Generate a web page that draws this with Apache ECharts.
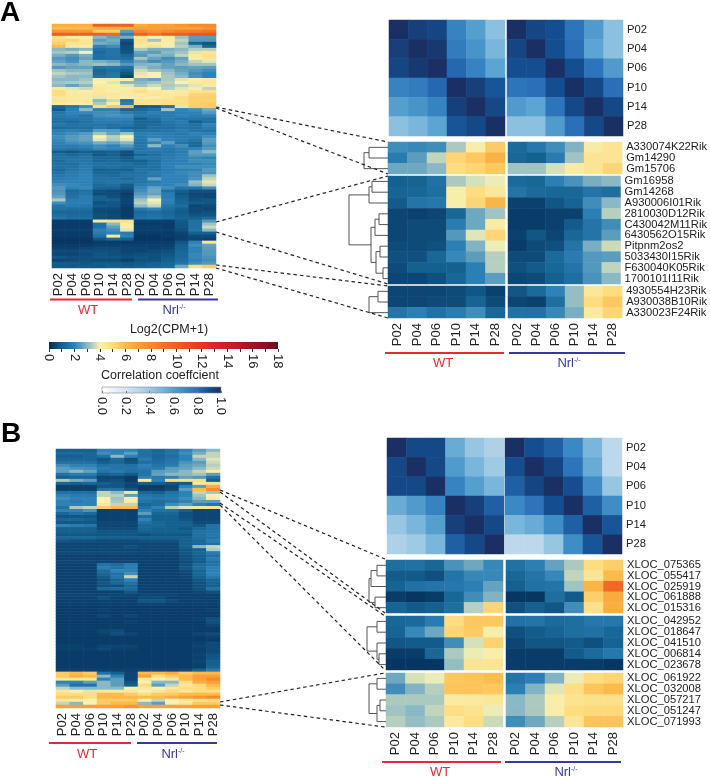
<!DOCTYPE html>
<html>
<head>
	<meta charset="utf-8" />
	<title>Heatmaps</title>
	<style>
		* { padding: 0; margin: 0; }
		html, body { background: #fff; }
	</style>
</head>
<body>
	<div id="main" style="width:710px;height:778px;"></div>
	<script src="https://cdn.jsdelivr.net/npm/echarts@6/dist/echarts.min.js"></script>
	<script>
		var timepoints = ['P02', 'P04', 'P06', 'P10', 'P14', 'P28'];
		var exprTicks = [0, 18];
		var corrTicks = [0, 1];
		// colour at log2 = 0,1,2...18
		var exprColors = ['#052c58', '#14608f', '#2e82b8', '#8ab8c4', '#f7f2b4', '#fedc80', '#fcba4a', '#f9a038', '#f68a2e', '#f27428', '#ee5f24', '#e94a24', '#e53525', '#df2426', '#cd1e28', '#b71a26', '#a01524', '#881022', '#700c20'];
		// colour at r = 0, .1 ... 1
		var corrColors = ['#ffffff', '#eaf2fa', '#d5e5f3', '#bdd8ec', '#9ecae3', '#7ab6dc', '#559fce', '#3a88c4', '#2a6fb8', '#144e90', '#1a2f64'];

		// overview heatmap A, one line per gene row: 6 WT then 6 Nrl-/-
		var overviewA = [
			[6.5, 6.5, 6.5, 10, 10, 10, 6.5, 7, 7, 7.5, 8, 8],
			[6, 6, 6, 6.5, 6.5, 6.5, 7, 7, 7, 7, 7, 7.5],
			[7.5, 7.5, 7.5, 5.5, 5.5, 2.5, 8, 7.5, 8, 8.5, 8.5, 9],
			[10, 10, 10, 10, 9.5, 2, 10, 9, 10, 10, 10.5, 10.5],
			[4.8, 4.2, 4.2, 3, 2.6, 2.8, 4.5, 4, 4.3, 3.2, 2.5, 2.5],
			[5, 5.2, 4.5, 2.5, 2.8, .8, 4.8, 3.2, 4.3, 3.5, 2.4, 2.4],
			[5.4, 4.6, 4.6, 2.8, 2.6, .5, 4.6, 4.4, 4.2, 3.2, 1.2, .8],
			[6, 4.4, 4.2, 2, 2.2, .7, 4.4, 4.8, 4.2, 3.4, 2.8, 1.2],
			[3, 2.8, 3, 1.5, 1.6, .7, 3.3, 2.8, 2.8, 3, 3.4, 3.4],
			[3.2, 3.4, 4, 1.3, 1.6, .8, 2.6, 2.5, 3, 3.2, 3.8, 4.6],
			[2.8, 2.4, 2.8, 1.5, 1.6, 1.2, 2.4, 3, 2.8, 3.5, 4.4, 4.8],
			[2.4, 2.2, 2.6, 1.4, 1.5, 1.4, 3.2, 2.6, 2.2, 2.6, 4.2, 4.6],
			[2.6, 2.3, 3, 2.8, 2.6, 2, 2.6, 2.2, 2.4, 2.8, 3.5, 3.8],
			[3, 2.8, 3, 3.2, 3, 2.4, 2.9, 3, 2.6, 3, 3.2, 3.2],
			[2.4, 2.6, 2.6, 1.6, 1.7, 1.5, 3.2, 2.8, 2.6, 2.5, 2.6, 2.5],
			[3.2, 3, 3, 1.2, 1.4, 1.1, 3.6, 3.2, 3, 2.6, 2.4, 2.2],
			[3.5, 3.3, 3.2, 1.3, 1.6, .8, 3.8, 4, 3.2, 2.8, 2.2, 2],
			[3.2, 3, 3, 1.5, 1.7, .5, 4.4, 4, 3.3, 3, 2.3, 2],
			[3, 3, 3.2, 4.2, 4.2, 4.2, 2.8, 2.6, 3.3, 3.8, 4.2, 4.4],
			[3.2, 3.3, 3.4, 4, 3.8, 3, 3, 3.2, 3.4, 4, 4.4, 4.5],
			[3, 2.6, 3, 4.3, 4.2, 3.8, 3.2, 3.6, 3.3, 3.5, 3.8, 4.3],
			[4.4, 3.8, 3.6, 4.5, 4.3, 4.2, 4.5, 4, 3.4, 3.8, 4.2, 3.5],
			[5, 4.3, 4.2, 4.4, 4.2, 4.4, 4.8, 4.4, 4.2, 4.4, 4.6, 4.8],
			[5, 4.4, 4.4, 4.6, 4.5, 4.3, 4.4, 4.6, 4.4, 4.5, 5.2, 5.3],
			[4.5, 4.4, 4.3, 3.8, 4.3, 4.2, 4.3, 4.2, 4.5, 5, 5.4, 5.4],
			[4.6, 4.5, 4.4, 3, 3.6, 1.6, 4.6, 4.8, 4.8, 4.8, 5.3, 5.3],
			[4.4, 4.2, 4.2, 3.3, 4.2, 1.8, 4.8, 4.6, 5, 5, 5.4, 5.5],
			[1.2, 1.6, 2.2, 5, 5.6, 6, .8, .9, 1.5, 3.8, 5.5, 5.5],
			[.9, 1.9, 3, 1.9, 2, 1.1, 1.2, 1.5, 3.2, 2, 2.2, 2.7],
			[1.6, 2, 2.1, 2.2, 2.2, 1.8, 1.6, 1.9, 1.8, 1.9, 2, 2.4],
			[1.7, 1.8, 1.6, 2.2, 2.3, 2.2, 1.7, 1.7, 1.8, 2, 1.8, 2],
			[1.5, 1.6, 1.6, 1.9, 2, 2, 1, 1.4, 1.8, 1.6, 1.6, 1.5],
			[1.4, 1.3, 1.5, 1.8, 1.8, 1.7, 1.2, 1.2, 1.6, 1.8, 1, 1.4],
			[1.7, 1.5, 1.6, 1.6, 1.5, 1.6, 1.2, 1.3, 1.5, 1.7, 1.5, 2],
			[1.3, 1.4, 1.4, 1.7, 1.4, 1.2, 1.1, 1.4, 1.4, 1.6, 1.5, 1.8],
			[1.8, 1.9, 1.7, 2.5, 2.4, 1.9, 1.5, 1.5, 1.6, 1.8, 1.6, 1.5],
			[2, 2.2, 2.4, 3.2, 2.6, 3.2, 1.8, 1.9, 1.8, 1.7, 2, 1.9],
			[2.2, 2.4, 2.6, 4.1, 3.4, 4, 1.8, 2, 1.9, 1.8, 1.8, 2.2],
			[2.1, 2.4, 2.6, 3.8, 3.3, 3.8, 1.7, 2.5, 2, 1.8, 1.6, 2.5],
			[2, 2.2, 2.3, 2.8, 2.6, 3, 1.6, 2, 2.5, 1.6, 1.3, 2.4],
			[1.8, 1.8, 2, 2.2, 2, 2.4, 1.7, 3, 1.9, 2.2, 1.2, 2.2],
			[1.7, 1.6, 1.7, 2.1, 2, 2, 1.6, 1.8, 1.7, 1.9, 2, 2.4],
			[.9, .8, 1, .9, 1, .7, 1.7, 1.6, 1.6, 1.8, 2.5, 3],
			[1.4, 1.2, 1.4, .8, 1, .6, 1.2, 1.4, 1.7, 1.9, 2.4, 2.4],
			[1.5, 1.5, 1.6, 1.2, 1.2, .9, 1.7, 1.6, 1.8, 2, 2.1, 2],
			[1.3, 1.6, 1.6, 1.2, 1.3, 1, 1, 1.4, 1.8, 1.9, 2.2, 2.2],
			[1.4, 1.4, 1.7, 1.5, 1.4, 1.4, 1.2, 1.5, 1.9, 2, 2, 2.1],
			[1.5, 1.5, 1.8, 1.4, 1.5, 1.3, 1.4, 1.5, 1.9, 2.2, 2.2, 2.2],
			[1.3, 1.6, 1.8, 1, 1.1, 1, 1.6, 1.5, 1.8, 1.9, 2, 2.4],
			[1.5, 1.8, 1.9, 1.2, 1.2, 1.4, 1.5, 1.8, 1.9, 2.1, 2.2, 2.3],
			[1.7, 1.8, 2, 1.4, 1.3, 1.5, 1.6, 1.7, 2, 2, 2.2, 3.2],
			[1.8, 1.9, 2, 1.5, 1.5, 1.3, 1.6, 2.6, 2, 2, 2.3, 3.5],
			[2, 2, 2, 1.5, 1.6, 1.6, 1.6, 1.8, 2, 2, 3.1, 3.8],
			[2.2, 2.1, 2, 1.3, 1.4, .9, 1.8, 2, 2, 2.2, 2.9, 3.6],
			[2.4, 2, 2.1, 1.2, 1.1, .8, 2.1, 2.6, 2.2, 1.6, 1.6, 2.2],
			[2.3, 1.3, 1.5, .7, .6, .5, 2.2, 2.7, 1.4, 1, .7, .7],
			[2.4, 1.4, 1.6, .6, .6, .3, 2.4, 2.6, 1.8, .8, .5, .5],
			[2.6, 1.5, 1.8, 1, .7, .4, 2.7, 3.2, 1.8, 1, .6, .5],
			[3.3, 1.8, 1.8, 1, 1, .5, 3.2, 4, 2, 1.1, .7, .8],
			[2.2, 1.9, 1.9, .7, .8, .5, 3.4, 3.8, 1.9, 1.2, .9, .8],
			[1.6, 1.8, 1.7, .9, .8, .4, 3, 3.5, 1.6, 1.4, .5, .6],
			[1.5, 1.4, 1.4, .6, .6, .3, 1.7, 2, 1.4, 1, .6, .5],
			[1.2, 1.2, 1.2, .6, .5, .3, 1.3, 1.4, 1.2, .9, .6, .7],
			[1.4, 1.3, 1.3, .7, .6, .3, 1.4, 1.5, 1.3, 1, .8, .8],
			[1.6, 1.4, 1.4, .7, .6, .4, 1.5, 1.6, 1.4, 1.1, 1, 1.3],
			[.3, .3, .3, 4.5, 4.8, 4.8, .4, .4, .4, .9, 1.5, 2.4],
			[.3, .3, .3, 1.5, 3, 4.3, .3, .3, .3, .8, 1.5, 3.2],
			[.3, .3, .3, 1.5, 2.5, 4.2, .4, .4, .3, .8, 1.5, 3.6],
			[.4, .4, .4, 2, 2.2, 3.8, .4, .4, .4, .7, 1.6, 3],
			[.3, .3, .3, 1.8, 2, 1.8, .3, .3, .3, .5, 1, 1],
			[.3, .3, .3, 1.5, 4.5, 2, .2, .2, .3, .4, .6, .6],
			[.2, .2, .2, .8, 1.2, 1, .2, .2, .2, .4, .5, .4],
			[.2, .2, .2, .3, .3, .3, .3, .3, .3, .8, 2, 4.5],
			[.3, .3, .3, .4, .4, .4, .4, .4, .4, 1, 2.2, 2.6],
			[.4, .4, .5, .6, .6, .5, .5, .4, .5, 1.1, 2, 2.5],
			[.6, .6, .7, .7, .7, .5, .5, .6, .7, 1.2, 2, 2.4],
			[.5, .5, .6, .8, .7, .6, .7, .7, .8, 1.3, 2.1, 2.4],
			[.8, .7, .7, .8, .8, .7, .8, .7, .9, 1.3, 2.1, 2.3],
			[.5, .6, .7, .6, .6, .4, .7, .7, 1, 1.4, 2, 2.2],
			[.9, .9, .8, .9, .9, .8, .9, 1, 1.2, 1.6, 2.2, 2.4],
			[.9, .9, .9, .9, 1, .9, 1, 1.1, 1.3, 2.7, 5, 5.5]
		];

		// overview heatmap B, same layout
		var overviewB = [
			[1, 1, 1, 2, 2, 2, 1.5, 1.2, 1.5, 2, 2.5, 3],
			[1.3, 1.3, 1.2, 2.2, 2, 2.5, 1.5, 1.3, 1.6, 2.2, 2.8, 3.5],
			[1, 1, 1.2, 1.5, 3, 2, 1.5, 1.2, 1.4, 2, 3.5, 3.5],
			[1.2, 1.2, 1.2, .8, 1.3, .7, 1.8, 1.3, 1.6, 2, 3, 3.8],
			[1.5, 1.5, 1.5, 1, 1.2, .8, 1.4, 1.4, 1.7, 2.3, 2.5, 3.6],
			[2.2, 2, 2, 1.5, 1.6, 1.5, 2, 1.6, 1.8, 2.5, 2.7, 3.4],
			[2.5, 2.3, 2.2, 1.8, 1.6, 1.6, 1.8, 1.8, 2.5, 2.6, 3, 3.6],
			[2.5, 3, 2.6, 1.6, 1.8, 1.5, 1.6, 2.5, 2.6, 3, 3.5, 4.2],
			[1.5, 1.8, 1.8, 1, 1.2, .9, 1.6, 2.6, 3, 3, 3.2, 2.5],
			[1, 1.2, 1.2, .5, .5, .3, 2, 1.8, 2, 2.6, 2.4, 1.5],
			[3.3, 2.8, 2.5, .6, .7, .3, 4.5, 2, 5, 5, 5, 1],
			[1.2, 1, 1.2, 1, .8, .6, 1, 1, .8, .9, 4.5, 4.8],
			[.4, .4, .4, .8, .8, .5, .3, .3, .5, 2, 2.5, 6.5],
			[.4, .4, .4, 1.5, 1.5, .8, .3, .4, .6, 2.5, 6, 8],
			[1.5, 1.5, 1.5, 3.5, 3, 4.5, 1.2, 1, 1.5, 2, 3.5, 3.2],
			[2, 1.8, 1.8, 3.5, 3.4, 2.5, 1.6, 1.5, 1.7, 2, 3.2, 4],
			[2.2, 2, 2, 4, 3.2, 4.2, 1.8, 1.7, 1.8, 2.2, 3, 4.2],
			[2, 1.8, 2, 4, 3.3, 4.3, 1.6, 1.4, 1.6, 2, 2.5, 2.5],
			[2, 2, 2, 4.5, 3.5, 3.5, 1.2, 1.4, 2.2, 2.5, 2, 1.6],
			[1.5, 3.3, 3.5, 5.5, 6, 6, 1.5, 2, 3.4, 3.8, 4.6, 4.6],
			[2, 2, 2.3, .4, .4, .4, 2, 1.5, 1.5, 1, .5, .5],
			[1.2, 1.5, 1.3, .4, .4, .4, 2.5, 1.2, 1.2, .7, .5, .5],
			[.8, .8, .8, .4, .4, .4, 1.4, 1, 1, .7, .5, .5],
			[1.2, 1.2, 1, .4, .4, .4, 2, 1, 1, .8, .5, .5],
			[.8, .8, .8, .5, .5, .5, 1.5, 1.2, 1, 1, .6, .6],
			[2, 1.8, 1.6, .5, .5, .5, 1.2, 1.2, 1, 1, .8, 1.5],
			[1, 1, 1, .6, .6, .6, 1.2, 1, 1, .8, 1.2, 1.5],
			[1, 1, 1, .8, .8, .8, 1, 1, 1, 1, 1.5, 1.6],
			[.8, .8, .8, .8, .8, .8, .7, .8, .8, .8, 1.5, 1.7],
			[1.2, 1.2, 1.2, 1, 1, 1, 1, 1, 1, 1, 1.4, 1.6],
			[.8, .7, .7, .6, .6, .6, .7, .7, .7, 1, 1.2, 1.8],
			[.5, .5, .5, .5, .5, .5, .5, .5, .5, 1, 1.2, 1.5],
			[.5, .5, .5, .5, .5, .7, .5, .5, .5, 1, 3, 3.5],
			[.5, .5, .5, .5, .5, .5, .5, .5, .5, .8, 1, 3.3],
			[.6, .6, .6, .6, .6, .6, .5, .5, .5, .8, 1.2, 1.8],
			[.4, .4, .4, .4, .4, .4, .4, .4, .4, .7, 1, 1.5],
			[.4, .4, .4, .4, .4, .4, .4, .4, .4, .7, 1, 1.8],
			[.5, .5, .5, .5, .5, .5, .4, .4, .4, .6, .9, 1.5],
			[.4, .4, .4, 1.5, 1.3, 1.8, .4, .4, .4, .7, 1.3, 1.6],
			[.4, .4, .4, 1.8, 1.5, 1.8, .4, .4, .4, .8, 1.4, 1.9],
			[.4, .4, .4, 1.3, 2, 1.9, .4, .4, .4, .6, 1.1, 1.9],
			[.4, .4, .4, 1.2, 1.5, 2.2, .4, .4, .4, .5, 1.2, 2],
			[.4, .4, .4, .9, 1.6, 3.5, .4, .4, .4, .5, 1, 1.7],
			[.4, .4, .4, .7, 1.2, 2, .4, .4, .4, .4, .8, 1.2],
			[.4, .4, .4, .8, 1.2, 1.5, .4, .4, .4, .4, .7, 1.1],
			[.4, .4, .4, .7, .7, 1.2, .4, .4, .4, .4, .7, 1],
			[.4, .4, .4, 1.2, 1.3, 1.3, .4, .4, .4, .4, .7, 1.5],
			[.4, .4, .4, .4, .4, .8, .4, .4, .4, .4, .5, .7],
			[.5, .5, .5, .5, .5, .5, .5, .5, .5, .4, .4, .4],
			[.4, .4, .4, .7, .4, .4, .6, .6, .4, .4, .4, .4],
			[.4, .4, .4, .4, .4, .4, .8, .8, .6, .4, .4, .4],
			[.4, .4, .4, .4, .4, .4, .5, .5, .4, .4, .4, .4],
			[.3, .3, .3, .3, .3, .3, .3, .3, .3, .3, .3, .3],
			[.3, .3, .3, .4, .3, .3, .3, .3, .3, .3, .3, .4],
			[.3, .3, .3, .3, .3, .3, .3, .3, .3, .3, .3, .3],
			[.3, .3, .3, .5, .3, .5, .3, .3, .3, .3, .3, .3],
			[.3, .3, .3, .3, .3, .3, .3, .3, .3, .3, .4, .7],
			[.3, .3, .3, .3, .3, .4, .3, .3, .3, .3, .3, .7],
			[.3, .3, .3, .3, .3, .3, .3, .3, .3, .3, .3, .5],
			[.3, .3, .3, .3, .3, .3, .3, .3, .3, .3, .3, .3],
			[.3, .3, .3, .5, .6, .3, .3, .3, .3, .3, .3, .3],
			[.3, .3, .3, .4, .7, .5, .3, .3, .3, .3, .5, .6],
			[.3, .3, .3, .3, .3, .3, .3, .3, .3, .3, .3, .4],
			[.3, .3, .3, .3, .3, .3, .3, .3, .3, .3, .3, .3],
			[.3, .3, .3, .3, .3, .3, .3, .3, .3, .3, .4, .6],
			[.4, .4, .3, .5, .5, .5, .3, .3, .3, .3, .5, .6],
			[.4, .4, .4, .6, .4, .4, .3, .3, .3, .3, .4, .6],
			[.3, .3, .3, .3, .3, .3, .3, .3, .3, .3, .4, .6],
			[.3, .3, .3, .3, .3, .3, .3, .3, .3, .3, .5, .8],
			[.3, .3, .3, .3, .3, .3, .3, .3, .3, .3, .4, .8],
			[.3, .3, .3, .3, .3, .3, .3, .3, .3, .3, .5, 1],
			[.3, .3, .3, .3, .3, .3, .3, .3, .3, .3, .4, 1],
			[.3, .3, .3, .3, .3, .3, .3, .3, .3, .3, .4, 1.2],
			[.4, .4, .4, .4, .4, .4, .5, .5, .5, .6, 1.1, 1.8],
			[5.5, 6, 5.5, 1.5, 1, .5, 6, 6, 6.5, 5.5, 6, 6],
			[5.5, 6.5, 6, 3, 2, .5, 7, 5, 5.5, 6, 7, 7],
			[4.5, 4.5, 4.5, 2, 2.5, .5, 4.5, 4, 4.5, 6, 7, 8],
			[2, 2, 2.5, 3, 2.5, .8, 4, 3, 3, 5, 6.5, 7],
			[2.5, 1.5, 1.5, 3, 2.5, 1, 5, 2.5, 3.5, 4.5, 5, 6],
			[3.5, 3, 3, 3, 3, 4, 4.5, 4, 4.5, 5, 5, 5.5],
			[4.5, 4, 3.8, 4.5, 4.5, 4.5, 4, 4.5, 5, 4.5, 5, 5],
			[5, 5, 5, 6, 6, 5.5, 5, 5.5, 5.5, 6, 6, 6],
			[5.5, 5.5, 5, 6, 6, 6, 6, 6, 6.5, 7, 7.5, 8],
			[4.5, 4.3, 4, 5.5, 5.5, 5.5, 4, 3.5, 4, 4.5, 4.8, 5],
			[3.5, 3, 4, 5.5, 6, 6, 3, 2.5, 4, 4.5, 5.5, 5.5],
			[7, 7, 7, 7, 7, 7.5, 7, 7, 7, 7, 7, 7]
		];

		var corrAWt = [
			[1, .95, .93, .72, .6, .45],
			[.95, 1, .97, .75, .65, .5],
			[.93, .97, 1, .82, .72, .58],
			[.72, .75, .82, 1, .95, .88],
			[.6, .65, .72, .95, 1, .92],
			[.45, .5, .58, .88, .92, 1]
		];
		var corrANrl = [
			[1, .93, .9, .78, .62, .45],
			[.93, 1, .9, .8, .58, .45],
			[.9, .9, 1, .9, .78, .62],
			[.78, .8, .9, 1, .92, .8],
			[.62, .58, .78, .92, 1, .92],
			[.45, .45, .62, .8, .92, 1]
		];
		var corrBWt = [
			[1, .92, .92, .55, .42, .35],
			[.92, 1, .92, .62, .5, .4],
			[.92, .92, 1, .72, .6, .5],
			[.55, .62, .72, 1, .95, .85],
			[.42, .5, .6, .95, 1, .92],
			[.35, .4, .5, .85, .92, 1]
		];
		var corrBNrl = [
			[1, .9, .85, .7, .5, .3],
			[.9, 1, .93, .78, .55, .3],
			[.85, .93, 1, .9, .68, .42],
			[.7, .78, .9, 1, .85, .68],
			[.5, .55, .68, .85, 1, .88],
			[.3, .3, .42, .68, .88, 1]
		];

		var genesA1 = ['A330074K22Rik', 'Gm14290', 'Gm15706'];
		var valuesA1 = [
			[2.2, 2.1, 2.2, 3.3, 4.2, 5.5, 1.3, 1.7, 2.2, 2.9, 4.3, 4.6],
			[1.8, 2.5, 3.5, 5.2, 5.6, 6.3, 1.2, 1, 1.8, 3.2, 4.6, 4.6],
			[2.7, 2.7, 3, 5, 5.2, 5.6, 3.2, 3.2, 3.7, 4.3, 4.6, 5.2]
		];
		var genesA2 = ['Gm16958', 'Gm14268', 'A930006I01Rik', '2810030D12Rik', 'C430042M11Rik', '6430562O15Rik', 'Pitpnm2os2', '5033430I15Rik', 'F630040K05Rik', '1700101I11Rik'];
		var valuesA2 = [
			[1, 1.1, 1.5, 3.3, 3.7, 3.9, 1.3, 1.2, 1.9, 2.3, 2.8, 3],
			[1.1, 1.2, 1.4, 4.2, 5, 4.5, 1.6, 1.3, 1.2, 1.2, 1.6, 1.4],
			[.9, 1.6, 1.7, 4.2, 5.2, 6.2, .4, .4, .8, 1.1, 2.2, 3],
			[.5, .4, .5, 1.2, 2.7, 3.2, .3, .3, .4, .4, 1.9, 3.4],
			[.5, .6, .6, 1.8, 2.7, 4.3, .3, .3, .4, .9, 1.6, 2.2],
			[.5, .6, .6, 2.4, 3.8, 5.2, .4, .8, .5, 1.2, 1.6, 2.5],
			[.6, .6, .7, 1.9, 2.9, 3.9, .3, .6, .7, 1.6, 2.8, 3.6],
			[.7, .7, 1.2, 2.1, 2.5, 3.4, .6, .6, 1.3, 1.8, 2.4, 2.5],
			[.6, 1, 1, 1, 1.9, 3.4, .7, .9, 1.2, 1.6, 2.4, 3.5],
			[.5, .5, .7, 1.2, 1.9, 2.5, .5, .6, 1, 1.4, 2.3, 3]
		];
		var genesA3 = ['4930554H23Rik', 'A930038B10Rik', 'A330023F24Rik'];
		var valuesA3 = [
			[.5, .5, .5, .6, .8, .4, .8, 1.3, 2, 3.1, 4.5, 5],
			[.5, .5, .6, .6, 1.1, .6, .5, .4, 1.4, 3.1, 5, 5.6],
			[1.6, 1.9, 1.5, 1.8, 2.2, 1.2, 1.5, 1.5, 2.1, 2.8, 4.4, 5.2]
		];
		var genesB1 = ['XLOC_075365', 'XLOC_055417', 'XLOC_025919', 'XLOC_061888', 'XLOC_015316'];
		var valuesB1 = [
			[1.4, 1.5, 1.2, 2.3, 2.7, 2.1, 1.5, 1.9, 2.6, 3.3, 5, 5.4],
			[.9, .9, .7, 1.6, 2.1, 2.1, 1.2, 1.6, 2.1, 3.5, 4.6, 6],
			[1.1, 1.5, 1.6, 1.7, 1.9, 2.6, 1, 1.5, 1.6, 3.2, 6.2, 9.5],
			[.3, .2, .3, 1.2, 2.2, 2.9, .2, .2, 1.4, .9, 5.4, 6.6],
			[1.1, .9, 1, 1.4, 3.4, 5.2, .7, 1, .8, 2.2, 4.8, 6.5]
		];
		var genesB2 = ['XLOC_042952', 'XLOC_018647', 'XLOC_041510', 'XLOC_006814', 'XLOC_023678'];
		var valuesB2 = [
			[1.2, 1.3, 1.8, 5, 5.6, 5.6, 1.5, 1.6, 1.3, 1.4, 1.7, 1.7],
			[1.1, 2.1, 2.7, 5.2, 5.5, 4.2, .7, .9, 1.1, 1.4, 1.5, 1.2],
			[.8, .9, .9, 2.2, 3.7, 5.3, .5, .8, .8, .9, .7, 1.1],
			[.3, .3, 1.2, 3.3, 3.9, 4.2, .3, .3, .3, .9, 1.3, 1.7],
			[.2, .2, .2, 3.1, 4.6, 4.6, .3, .3, .3, .3, .3, .2]
		];
		var genesB3 = ['XLOC_061922', 'XLOC_032008', 'XLOC_057217', 'XLOC_051247', 'XLOC_071993'];
		var valuesB3 = [
			[2.7, 3.7, 3.9, 5.6, 5.7, 5.9, 1.6, 1.9, 2.9, 3.9, 5, 5.2],
			[2.2, 2.9, 3.4, 5.7, 5.7, 5.6, 1.9, 2.9, 3.8, 4.9, 5.7, 6],
			[3.3, 3.3, 3.3, 4.3, 4.4, 4.5, 3, 3.3, 4.2, 4.7, 4.8, 4.8],
			[3.2, 3, 3.5, 4.9, 4.7, 3.9, 3, 3.3, 4.2, 5, 5.1, 5.1],
			[3.4, 3.1, 3.3, 4.4, 4.9, 3.6, 2.2, 2.7, 3.4, 4.6, 5.7, 5.7]
		];

		// clustering trees: [merge height, child, child], a bare number is a gene row
		var treeA1 = [24, [19, 0, 1], 2];
		var treeA2 = [39, [19, [16, 0, 1], 2], [17, [13, [9, 3, 4], 5], [12, [8, 6, 7], [5, 8, 9]]]];
		var treeA3 = [19, [10, 0, 1], 2];
		var treeB1 = [17, [15, [9, 0, 1], 2], [11, 3, 4]];
		var treeB2 = [19, [9, 0, 1], [9, 2, [7, 3, 4]]];
		var treeB3 = [17, [9, 0, 1], [9, [6, 2, 3], 4]];

		var FONT = '"Liberation Sans", Arial, sans-serif';
		var TEXT = '#222';
		var RED = '#e12b36';
		var BLUE = '#38389a';

		var grids = [], xAxes = [], yAxes = [], seriesList = [], graphics = [];
		var exprSeries = [], corrSeries = [];

		function addGrid(rect, xAxis, yAxis) {
			grids.push({ left: rect[0], top: rect[1], width: rect[2], height: rect[3], show: false });
			var i = grids.length - 1;
			xAxis.gridIndex = i;
			yAxis.gridIndex = i;
			xAxes.push(xAxis);
			yAxes.push(yAxis);
			return i;
		}

		function hiddenLine() {
			return { axisLine: { show: false }, axisTick: { show: false }, splitLine: { show: false } };
		}

		// one heatmap block, from/to pick the columns of rows
		function heat(rect, rows, from, to, colNames, rowNames, scale) {
			var names = [];
			for (var r = 0; r < rows.length; r++) names.push(rowNames ? rowNames[r] : String(r));
			var xa = hiddenLine();
			xa.type = 'category';
			xa.data = colNames || timepoints;
			xa.axisLabel = colNames
				? { show: true, rotate: 90, fontSize: 13, fontFamily: FONT, color: TEXT, margin: 5, interval: 0 }
				: { show: false };
			var ya = hiddenLine();
			ya.type = 'category';
			ya.data = names;
			ya.inverse = true;
			ya.position = 'right';
			ya.axisLabel = rowNames
				? { show: true, fontSize: 11.2, fontFamily: FONT, color: TEXT, margin: 4, interval: 0 }
				: { show: false };
			var g = addGrid(rect, xa, ya);
			var data = [];
			for (var i = 0; i < rows.length; i++) {
				for (var j = from; j < to; j++) {
					data.push([j - from, i, rows[i][j]]);
				}
			}
			seriesList.push({ type: 'heatmap', xAxisIndex: g, yAxisIndex: g, data: data, silent: true, animation: false, progressive: 0 });
			(scale == 'corr' ? corrSeries : exprSeries).push(seriesList.length - 1);
		}

		// walks a tree into segments [h0, y0, h1, y1]
		function flatten(node, out) {
			if (typeof node == 'number') return { h: 0, y: node + 0.5 };
			var a = flatten(node[1], out);
			var b = flatten(node[2], out);
			out.push([a.h, a.y, node[0], a.y]);
			out.push([b.h, b.y, node[0], b.y]);
			out.push([node[0], a.y, node[0], b.y]);
			return { h: node[0], y: (a.y + b.y) / 2 };
		}

		function dendro(rect, tree, n) {
			var segs = [];
			flatten(tree, segs);
			var xa = hiddenLine();
			xa.type = 'value'; xa.min = 0; xa.max = rect[2]; xa.inverse = true; xa.axisLabel = { show: false };
			var ya = hiddenLine();
			ya.type = 'value'; ya.min = 0; ya.max = n; ya.inverse = true; ya.axisLabel = { show: false };
			var g = addGrid(rect, xa, ya);
			seriesList.push({
				type: 'custom', xAxisIndex: g, yAxisIndex: g, data: segs, silent: true, animation: false, clip: false,
				renderItem: function (params, api) {
					var p0 = api.coord([api.value(0), api.value(1)]);
					var p1 = api.coord([api.value(2), api.value(3)]);
					return {
						type: 'line',
						shape: { x1: p0[0], y1: p0[1], x2: p1[0], y2: p1[1] },
						style: { stroke: '#555', lineWidth: 1 }
					};
				}
			});
		}

		function label(x, y, text, size, color, extra) {
			var style = { x: x, y: y, text: text, fontSize: size, fontFamily: FONT, fill: color, align: 'center', verticalAlign: 'middle' };
			for (var k in extra) style[k] = extra[k];
			graphics.push({ type: 'text', z: 20, silent: true, style: style });
		}

		function bar(x1, x2, y, color) {
			graphics.push({ type: 'line', z: 20, silent: true, shape: { x1: x1, y1: y, x2: x2, y2: y }, style: { stroke: color, lineWidth: 2.2 } });
		}

		function groupLabels(wtX, nrlX, y) {
			label(wtX, y, 'WT', 13, RED);
			label(nrlX, y, '{a|Nrl}{b|-/-}', 13, BLUE, {
				rich: {
					a: { fontSize: 13, fontFamily: FONT, fill: BLUE, color: BLUE },
					b: { fontSize: 7, fontFamily: FONT, fill: BLUE, color: BLUE, verticalAlign: 'top', lineHeight: 13 }
				}
			});
		}

		function dash(x1, y1, x2, y2) {
			graphics.push({
				type: 'line', z: 15, silent: true, shape: { x1: x1, y1: y1, x2: x2, y2: y2 },
				style: { stroke: '#222', lineWidth: 1.2, lineDash: [3.5, 3] }
			});
		}

		function gradient(colors) {
			var stops = [];
			for (var i = 0; i < colors.length; i++) stops.push({ offset: i / (colors.length - 1), color: colors[i] });
			return new echarts.graphic.LinearGradient(0, 0, 1, 0, stops);
		}

		function colorbar(rect, colors, range, step, fmt, minorSplit, border, inside) {
			grids.push({ left: rect[0], top: rect[1], width: rect[2], height: rect[3], show: true, backgroundColor: gradient(colors), borderColor: border, borderWidth: border == 'transparent' ? 0 : 0.6 });
			var i = grids.length - 1;
			xAxes.push({
				gridIndex: i, type: 'value', position: 'bottom', min: range[0], max: range[1], interval: step,
				axisLine: { show: false }, splitLine: { show: false },
				axisTick: { show: true, inside: inside, length: inside ? 2 : 3, lineStyle: { color: inside ? '#777' : '#333', width: 1 } },
				minorTick: { show: minorSplit > 1, splitNumber: minorSplit, length: 3, lineStyle: { color: '#333', width: 1 } },
				axisLabel: { show: true, rotate: -90, fontSize: 13, fontFamily: FONT, color: TEXT, margin: inside ? 4 : 5, formatter: fmt, hideOverlap: false, showMinLabel: true, showMaxLabel: true }
			});
			yAxes.push({ gridIndex: i, type: 'value', min: 0, max: 1, show: false });
		}

		// ---- panel A ----
		heat([52, 24, 164, 244], overviewA, 0, 12, timepoints.concat(timepoints), null, 'expr');
		heat([389, 20, 116, 116], corrAWt, 0, 6, null, null, 'corr');
		heat([507, 20, 116, 116], corrANrl, 0, 6, null, timepoints, 'corr');
		heat([388, 142, 117, 32], valuesA1, 0, 6, null, null, 'expr');
		heat([508, 142, 115, 32], valuesA1, 6, 12, null, genesA1, 'expr');
		heat([388, 176, 117, 108], valuesA2, 0, 6, null, null, 'expr');
		heat([508, 176, 115, 108], valuesA2, 6, 12, null, genesA2, 'expr');
		heat([388, 286, 117, 32], valuesA3, 0, 6, timepoints, null, 'expr');
		heat([508, 286, 115, 32], valuesA3, 6, 12, timepoints, genesA3, 'expr');
		dendro([348, 142, 40, 32], treeA1, 3);
		dendro([348, 176, 40, 108], treeA2, 10);
		dendro([348, 286, 40, 32], treeA3, 3);

		// ---- panel B ----
		heat([56, 449, 164, 259], overviewB, 0, 12, timepoints.concat(timepoints), null, 'expr');
		heat([387, 438, 117, 116], corrBWt, 0, 6, null, null, 'corr');
		heat([505, 438, 117, 116], corrBNrl, 0, 6, null, timepoints, 'corr');
		heat([386, 560, 117, 53], valuesB1, 0, 6, null, null, 'expr');
		heat([506, 560, 117, 53], valuesB1, 6, 12, null, genesB1, 'expr');
		heat([386, 616, 117, 54], valuesB2, 0, 6, null, null, 'expr');
		heat([506, 616, 117, 54], valuesB2, 6, 12, null, genesB2, 'expr');
		heat([386, 673, 117, 54], valuesB3, 0, 6, timepoints, null, 'expr');
		heat([506, 673, 117, 54], valuesB3, 6, 12, timepoints, genesB3, 'expr');
		dendro([346, 560, 40, 53], treeB1, 5);
		dendro([346, 616, 40, 54], treeB2, 5);
		dendro([346, 673, 40, 54], treeB3, 5);

		colorbar([49, 342, 229, 7], exprColors, exprTicks, 2, null, 2, 'transparent', false);
		colorbar([102, 387, 119, 6], corrColors, corrTicks, 0.2, function (v) { return v.toFixed(1); }, 1, '#888', true);

		label(10, 13, 'A', 28, '#000', { fontWeight: 'bold' });
		label(11, 434, 'B', 28, '#000', { fontWeight: 'bold' });

		bar(50, 132, 299.5, RED); bar(138, 218, 299.5, BLUE);
		groupLabels(88, 174, 310);
		bar(385, 504, 353, RED); bar(509, 625, 353, BLUE);
		groupLabels(443, 569, 363);
		bar(49, 131, 743, RED); bar(137, 217, 743, BLUE);
		groupLabels(87, 173, 754);
		bar(382, 501, 762, RED); bar(505, 621, 762, BLUE);
		groupLabels(440, 566, 772);

		label(169, 330, 'Log2(CPM+1)', 12.5, TEXT);
		label(160, 376, 'Correlation coeffcient', 12.5, TEXT);

		dash(216, 107, 388, 142);
		dash(216, 108, 388, 174);
		dash(216, 222, 388, 176);
		dash(216, 232, 388, 284);
		dash(216, 265, 388, 286);
		dash(216, 268, 388, 318);
		dash(220, 490, 385, 559);
		dash(220, 492, 385, 613);
		dash(220, 503, 385, 616);
		dash(220, 505, 385, 670);
		dash(220, 702, 385, 673);
		dash(220, 705, 385, 727);

		var myChart = echarts.init(document.getElementById('main'), null, { renderer: 'canvas' });
		myChart.setOption({
			animation: false,
			backgroundColor: '#fff',
			grid: grids,
			xAxis: xAxes,
			yAxis: yAxes,
			visualMap: [
				{ type: 'continuous', show: false, min: 0, max: 18, seriesIndex: exprSeries, inRange: { color: exprColors } },
				{ type: 'continuous', show: false, min: 0, max: 1, seriesIndex: corrSeries, inRange: { color: corrColors } }
			],
			series: seriesList,
			graphic: graphics
		});
	</script>
</body>
</html>
